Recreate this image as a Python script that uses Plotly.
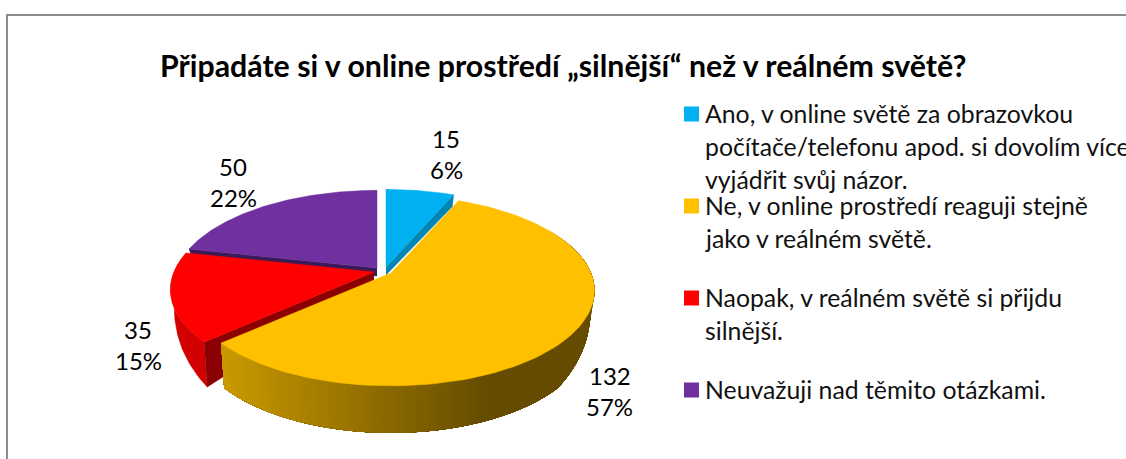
import numpy as np
import plotly.graph_objects as go

categories = ["Ano, v online světě za obrazovkou počítače/telefonu apod. si dovolím více vyjádřit svůj názor.",
              "Ne, v online prostředí reaguji stejně jako v reálném světě.",
              "Naopak, v reálném světě si přijdu silnější.",
              "Neuvažuji nad těmito otázkami."]
values = [15, 132, 35, 50]
colors = ["#00B0F0", "#FFC000", "#FF0000", "#7030A0"]
cut_colors = ["#0085B5", "#8A6800", "#8B0000", "#3A1A58"]
title = "Připadáte si v online prostředí „silnější“ než v reálném světě?"
legend_lines = [["Ano, v online světě za obrazovkou", "počítače/telefonu apod. si dovolím více", "vyjádřit svůj názor."],
                ["Ne, v online prostředí reaguji stejně", "jako v reálném světě."],
                ["Naopak, v reálném světě si přijdu", "silnější."],
                ["Neuvažuji nad těmito otázkami."]]
legend_y = [114, 206, 298, 390]
label_pos = [(446, 138), (610, 375), (138, 329), (233, 166)]

# pie projection
A, B, K = 200.0, 92.0, 0.185
apex = [(386, 267), (391, 273), (374, 272), (377, 268)]
FONT = "Lato"

total = sum(values)
edges = np.cumsum([0] + values) / total * 360.0


def top(th, c):
    t = np.radians(th)
    u, v = np.sin(t), -np.cos(t)
    s = 1 / (1 - K * v)
    return c[0] + A * u * s, c[1] + B * v * s


def bottom(th, c):
    x, y = top(th, c)
    v = -np.cos(np.radians(th))
    d = np.interp(v, [-1, -0.2, 0.166, 0.4, 0.669, 1], [12, 10, 15, 30, 45, 47])
    return c[0] + (x - c[0]) * 0.982, y + d


fig = go.Figure()


def poly(xs, ys, color, lw=0.5):
    fig.add_trace(go.Scatter(x=list(xs), y=list(ys), mode="lines", fill="toself", fillcolor=color,
                             line=dict(color=color, width=lw), hoverinfo="skip", showlegend=False))


def arc(i):
    th = np.linspace(edges[i], edges[i + 1], 120)
    return top(th, apex[i])


def cut(i, th):
    c = apex[i]
    x0, y0 = top(th, c)
    x1, y1 = bottom(th, c)
    poly([c[0], x0, x1, c[0]], [c[1], y0, y1, c[1] + 8], cut_colors[i])


def face(i):
    x, y = arc(i)
    c = apex[i]
    poly([c[0], *x, c[0]], [c[1], *y, c[1]], colors[i])


# blue
cut(0, edges[1])
face(0)
# purple
cut(3, edges[3])
face(3)
# red
th = np.linspace(edges[2], edges[3], 60)
x0, y0 = top(th, apex[2])
x1, y1 = bottom(th, apex[2])
poly([*x0, *x1[::-1]], [*y0, *y1[::-1]], "#D20000")
cut(2, edges[2])
face(2)
# yellow wall with gradient: painted from the right, each band running on under the next


def wall_color(x):
    t = float(np.clip((x - 224) / (490 - 224), 0, 1))
    c0, c1 = np.array([201, 154, 0]), np.array([102, 76, 0])
    r = c0 + (c1 - c0) * t
    return "rgb(%d,%d,%d)" % tuple(r)


start = 60.0
ths = np.arange(start, edges[2], 1.5)
for a in ths:
    arc_th = np.linspace(a, edges[2], 40)
    xa, ya = top(arc_th, apex[1])
    xb, yb = bottom(arc_th, apex[1])
    poly([*xa, *xb[::-1]], [*ya, *yb[::-1]], wall_color(xa[0]), lw=0)
face(1)

# data labels
ann = []
for i, (lx, ly) in enumerate(label_pos):
    pct = f"{round(values[i] / total * 100)}%"
    ann.append(dict(x=lx, y=ly, text=str(values[i]), showarrow=False, xanchor="center", yanchor="middle",
                    font=dict(family=FONT, size=24, color="#000000")))
    ann.append(dict(x=lx - (1 if i in (1,) else 0), y=ly + 31, text=pct, showarrow=False, xanchor="center",
                    yanchor="middle", font=dict(family=FONT, size=24, color="#000000")))

# legend
for i, lines in enumerate(legend_lines):
    fig.add_trace(go.Scatter(x=[691.5], y=[legend_y[i]], mode="markers", name=categories[i],
                             marker=dict(symbol="square", size=15, color=colors[i]),
                             hoverinfo="skip", showlegend=False))
    for j, line in enumerate(lines):
        ann.append(dict(x=703, y=legend_y[i] - 1 + j * 33, text=line, showarrow=False, xanchor="left",
                        yanchor="middle", font=dict(family=FONT, size=24.8, color="#111111")))

ann.append(dict(x=563, y=65, text=f"<b>{title}</b>", showarrow=False, xanchor="center", yanchor="middle",
                font=dict(family=FONT, size=30.3, color="#000000")))

frame = "#8C8C8C"
shapes = [dict(type="line", x0=7, x1=7, y0=15, y1=459, line=dict(color=frame, width=2)),
          dict(type="line", x0=6, x1=1126, y0=15, y1=15, line=dict(color=frame, width=2))]

fig.update_layout(width=1126, height=459, margin=dict(l=0, r=0, t=0, b=0),
                  paper_bgcolor="white", plot_bgcolor="white", annotations=ann, shapes=shapes,
                  xaxis=dict(range=[0, 1126], visible=False, fixedrange=True),
                  yaxis=dict(range=[459, 0], visible=False, fixedrange=True), showlegend=False)
fig.write_html("out.html", config={"displayModeBar": False},
               post_script="document.body.style.margin='0';document.documentElement.style.overflow='hidden';")
